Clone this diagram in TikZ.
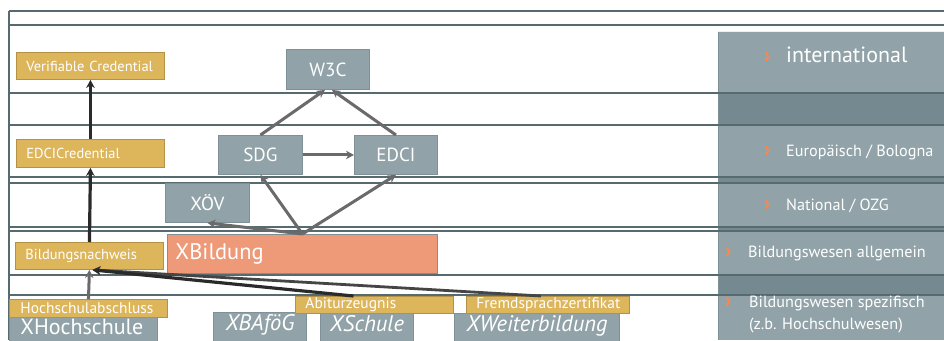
\documentclass[tikz,border=0pt]{standalone}
\usepackage{fontspec}
\setmainfont{PT Sans}
\usetikzlibrary{arrows.meta}
\definecolor{framec}{HTML}{566A70}
\definecolor{gold}{HTML}{DDB55B}
\definecolor{goldb}{HTML}{B39145}
\definecolor{slate}{HTML}{91A3A8}
\definecolor{slateb}{HTML}{7F9196}
\definecolor{band}{HTML}{748A90}
\definecolor{salmon}{HTML}{EE9A78}
\definecolor{chev}{HTML}{F7884F}
\definecolor{arrg}{HTML}{6A6A6A}
\definecolor{arrd}{HTML}{2A2A2A}
\definecolor{arrm}{HTML}{454545}
\newcommand{\chevmark}[1]{\makebox[#1][l]{\fontsize{21}{21}\bfseries\color{chev}›}}
\begin{document}
\begin{tikzpicture}[x=1pt,y=-1pt,
  goldbox/.style={draw=goldb, fill=gold, line width=0.9pt, text=white, inner ysep=0pt, inner xsep=10pt,
    anchor=north west, align=left, font=\fontsize{14.5}{16}\selectfont},
  slatebox/.style={draw=slateb, fill=slate, line width=0.9pt, text=white, inner sep=0pt,
    anchor=north west, align=center, font=\fontsize{19}{21}\selectfont},
  bigbox/.style={draw=slateb, fill=slate, line width=0.9pt, text=white, inner ysep=0pt,
    text height=15pt, text depth=10pt, anchor=north west, font=\fontsize{22.5}{24}\itshape},
  paneltext/.style={anchor=west, inner sep=0pt, text=white, align=left, font=\fontsize{16.2}{22}\selectfont},
  framel/.style={draw=framec, line width=1.3pt},
  garrow/.style={draw=arrg, line width=3pt, -{Stealth[length=8pt,width=8.5pt,inset=2.5pt]}},
  darrow/.style={draw=arrd, line width=3.2pt, -{Stealth[length=8pt,width=8.5pt,inset=2.5pt]}},
  marrow/.style={draw=arrm, line width=2.8pt, -{Stealth[length=8pt,width=8.5pt,inset=2.5pt]}}
]
\clip (0,0) rectangle (944,340);
\fill[white] (0,0) rectangle (944,340);

% right panel
\fill[slate] (718,31) rectangle (944,340);
\fill[band] (718,93) rectangle (944,125);
\fill[band] (718,177) rectangle (944,184);
\fill[band] (718,227) rectangle (944,231);
\fill[band] (718,275) rectangle (944,295);
\draw[slateb, line width=1pt] (718,31) -- (718,340);
\draw[white!85!slate, line width=0.8pt] (718,31) -- (944,31);

% frame lines
\draw[framec, line width=2pt] (9,11) -- (944,11);
\draw[framel] (9,11) -- (9,340);
\foreach \yy in {25,93,125,177,183,227,231,275,295}
  \draw[framel] (9,\yy) -- (944,\yy);

% panel texts
\node[paneltext, font=\fontsize{22}{24}\selectfont] (pint) at (764,55) {\chevmark{22pt}international};
\node[paneltext] (peu) at (764,152) {\chevmark{22pt}Europäisch / Bologna};
\node[paneltext] (pnat) at (764,206) {\chevmark{22pt}National / OZG};
\node[paneltext] (pall) at (725,253) {\chevmark{23pt}Bildungswesen allgemein};
\node[paneltext, anchor=north west] (pspez) at (725,296) {\chevmark{24pt}Bildungswesen spezifisch\\\hspace*{24pt}(z.b. Hochschulwesen)};

% gold boxes
\node[goldbox, text width=128pt, minimum height=27pt] (vc) at (16,52) {Verifiable Credential};
\node[goldbox, text width=128pt, minimum height=28pt] (ec) at (16,139) {EDCICredential};
\node[goldbox, text width=128pt, minimum height=27pt] (bn) at (15,242) {Bildungsnachweis};

% center boxes
\node[slatebox, minimum width=83pt, minimum height=40pt] (w3c) at (286,49) {W3C};
\node[slatebox, minimum width=84pt, minimum height=39pt] (sdg) at (218,135) {SDG};
\node[slatebox, minimum width=83pt, minimum height=39pt] (edci) at (354,135) {EDCI};
\node[slatebox, minimum width=84pt, minimum height=39pt] (xov) at (165,183) {XÖV};
\node[slatebox, fill=salmon, align=left, inner xsep=8pt, text width=254pt, minimum height=39pt,
  font=\fontsize{22.5}{24}\selectfont] (xb) at (167,234) {XBildung};

% bottom boxes
\node[bigbox, font=\fontsize{22}{24}\selectfont, inner xsep=11pt, text width=126pt, align=left, minimum height=30pt] (xh) at (9,317) {XHochschule};
\node[bigbox, minimum width=93pt, minimum height=32pt] (xbaf) at (213,312) {XBAföG};
\node[bigbox, minimum width=93pt, minimum height=32pt] (xs) at (320,313) {XSchule};
\node[bigbox, minimum width=165pt, minimum height=32pt] (xw) at (454,313) {XWeiterbildung};

\node[goldbox, font=\fontsize{15.5}{17}\selectfont, inner xsep=11pt, text width=136pt, minimum height=18pt] (ha) at (9,299) {Hochschulabschluss};
\node[goldbox, font=\fontsize{15.5}{17}\selectfont, text width=138pt, minimum height=17pt] (abi) at (295,296) {Abiturzeugnis};
\node[goldbox, font=\fontsize{15.5}{17}\selectfont, text width=143pt, minimum height=17pt] (fz) at (466,296) {Fremdsprachzertifikat};

% arrows
\draw[garrow] (sdg.north) -- ([xshift=-3pt]w3c.south);
\draw[garrow] (edci.north) -- ([xshift=4pt]w3c.south);
\draw[garrow] (sdg.east) -- (edci.west);
\draw[garrow] (xb.north) -- (sdg.south);
\draw[garrow] (xb.north) -- (edci.south);
\draw[garrow] (xb.north) -- (xov.south);

\draw[darrow] (ec.north) -- (vc.south);
\draw[darrow] (bn.north) -- (ec.south);
\draw[garrow] (ha.north) -- (bn.south);
\draw[marrow] ([xshift=-7pt]fz.north) -- ([xshift=3pt]bn.south);
\draw[darrow] ([xshift=-21pt]abi.north) -- ([xshift=3pt]bn.south);
\end{tikzpicture}
\end{document}
